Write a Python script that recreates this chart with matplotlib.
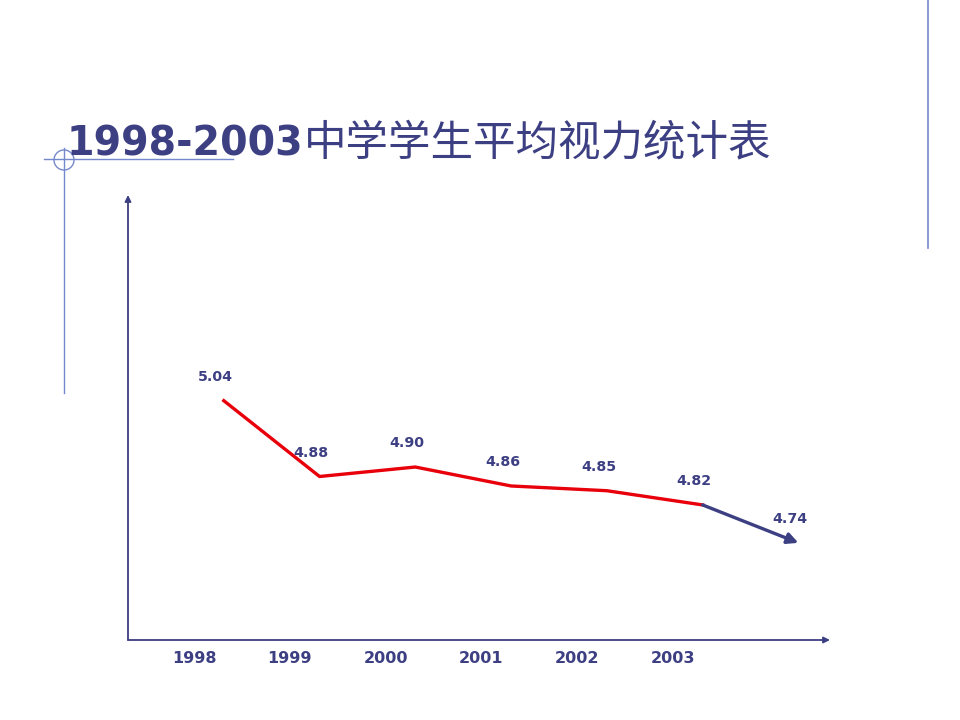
import matplotlib
matplotlib.use('Agg')
import matplotlib.pyplot as plt
from matplotlib.patches import Circle

plt.rcParams['font.family'] = ['DejaVu Sans', 'Noto Sans CJK SC']

years = ['1998', '1999', '2000', '2001', '2002', '2003']
vision = [5.04, 4.88, 4.90, 4.86, 4.85, 4.82]
forecast = 4.74

navy = '#3d3f83'
deco = '#7489cc'
red = '#e8000b'

fig = plt.figure(figsize=(9.6, 7.2), dpi=100)

# overlay for slide decorations, pixel coordinates
bg = fig.add_axes([0, 0, 1, 1])
bg.set_xlim(0, 960)
bg.set_ylim(720, 0)
bg.axis('off')
bg.plot([44, 233], [159, 159], color=deco, lw=1)
bg.plot([64, 64], [148, 393], color=deco, lw=1)
bg.add_patch(Circle((64, 160), 10, fill=False, ec=deco, lw=1))
bg.plot([928, 928], [0, 248], color=deco, lw=1.2)
bg.text(67, 155, '1998-2003', fontsize=28.5, fontweight='bold', color=navy,
        ha='left', va='baseline')
bg.text(304, 155, '中学学生平均视力统计表', fontsize=30.6, color=navy,
        family=['Noto Sans CJK SC'], fontweight='light', ha='left', va='baseline')

ax = fig.add_axes([128 / 960, 80 / 720, 702 / 960, 445 / 720])
ax.set_xlim(-1, 6.33)
ax.set_ylim(4.535, 5.474)
for s in ax.spines.values():
    s.set_visible(False)
ax.set_xticks([])
ax.set_yticks([])
ax.patch.set_alpha(0)

# axes with arrows
ax.annotate('', xy=(1.0, 0), xytext=(0, 0), xycoords='axes fraction',
            arrowprops=dict(arrowstyle='-|>', color=navy, lw=1.3,
                            mutation_scale=9, shrinkA=0, shrinkB=0))
ax.annotate('', xy=(0, 1.0), xytext=(0, 0), xycoords='axes fraction',
            arrowprops=dict(arrowstyle='-|>', color=navy, lw=1.3,
                            mutation_scale=9, shrinkA=0, shrinkB=0))

idx = list(range(len(years)))
ax.plot(idx, vision, color=red, lw=2.4, solid_joinstyle='round')
ax.annotate('', xy=(len(years), forecast), xytext=(len(years) - 1, vision[-1]),
            arrowprops=dict(arrowstyle='-|>', color=navy, lw=2.4,
                            mutation_scale=16, shrinkA=0, shrinkB=0))

vals = vision + [forecast]
for i, v in enumerate(vals):
    ax.annotate(f'{v:.2f}', xy=(i, v), xytext=(-6, 12), textcoords='offset points',
                ha='center', va='bottom', fontsize=10.2, fontweight='bold', color=navy)

for i, y in enumerate(years):
    ax.annotate(y, xy=(i - 0.31, 0), xycoords=('data', 'axes fraction'),
                xytext=(0, -13), textcoords='offset points', ha='center',
                va='center', fontsize=11.5, fontweight='bold', color=navy)

fig.savefig('out.png', dpi=100)
